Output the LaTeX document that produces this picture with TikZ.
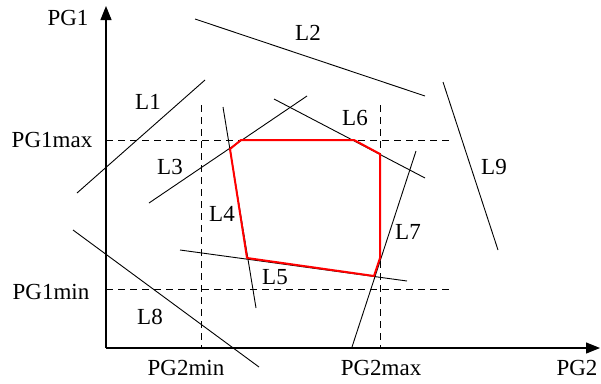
\documentclass[tikz,border=0pt]{standalone}
\usepackage{fontspec}
\setmainfont{Liberation Serif}
\usetikzlibrary{arrows.meta}

\begin{document}
\begin{tikzpicture}[x=1pt, y=-1pt,
    every node/.style={font=\fontsize{23}{27}\selectfont, inner sep=0pt},
    axis/.style={line width=1.2pt, -{Triangle[length=14pt,width=11pt]}},
    limit/.style={line width=0.9pt, dash pattern=on 7pt off 5pt},
    constraint/.style={line width=0.9pt},
    region/.style={red, line width=2pt, line join=round}]
    \useasboundingbox (0,0) rectangle (601,383);
    % axes
    \coordinate (O) at (106,348);
    \coordinate (ytop) at (106,6);
    \coordinate (xend) at (600,348);
    \draw[axis] (O) -- (ytop);
    \draw[axis] (O) -- (xend);
    \node (pg1) at (68,18) {PG1};
    \node (pg2) at (577,368) {PG2};
    % limits
    \draw[limit] (106,140) -- (452,140);
    \draw[limit] (106,289) -- (452,289);
    \draw[limit] (201,105) -- (201,348);
    \draw[limit] (380,105) -- (380,348);
    \node (pg1max) at (52,140) {PG1max};
    \node (pg1min) at (51,292) {PG1min};
    \node (pg2min) at (186,368) {PG2min};
    \node (pg2max) at (381,368) {PG2max};
    % constraint lines
    \foreach \a/\b/\name/\pos in {
        {77,193}/{205,80}/L1/{148,102},
        {195,19}/{425,96}/L2/{308,33},
        {149,203}/{307,96}/L3/{170,167},
        {223,107}/{256,308}/L4/{222,214},
        {180,250}/{407,281}/L5/{275,277},
        {274,99}/{425,178}/L6/{355,118},
        {352,347}/{416,151}/L7/{408,232},
        {73,230}/{259,367}/L8/{150,317},
        {443,82}/{498,250}/L9/{494,167}} {
      \draw[constraint] (\a) -- (\b);
      \node (\name) at (\pos) {\name};
    }
    % feasible region
    \draw[region] (230,149) -- (241,140) -- (354,140) -- (380,154)
        -- (380,258) -- (374,276) -- (247,258) -- cycle;
\end{tikzpicture}
\end{document}
